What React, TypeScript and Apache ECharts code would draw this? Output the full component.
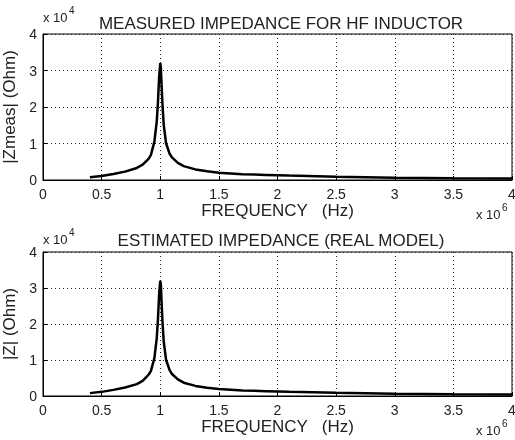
import React, { useEffect, useRef } from "react";
import * as echarts from "echarts";

// Frequencies in Hz, impedance magnitudes in Ohm
const measFreq = [
  0.4e6, 0.5e6, 0.6e6, 0.7e6, 0.8e6, 0.85e6, 0.9e6, 0.92e6, 0.95e6, 0.97e6, 0.98e6, 0.99e6,
  1.0e6, 1.005e6, 1.01e6, 1.02e6, 1.03e6, 1.05e6, 1.08e6, 1.1e6, 1.15e6, 1.2e6, 1.3e6, 1.4e6,
  1.5e6, 1.7e6, 1.9e6, 2.1e6, 2.5e6, 3.0e6, 3.5e6, 4.0e6,
];
const measZ = [
  740, 1100, 1650, 2300, 3300, 4200, 5800, 6800, 10500, 16000, 21000, 28000,
  32000, 31000, 27000, 20000, 15000, 10000, 7200, 6200, 4700, 3800, 2900, 2400,
  2000, 1600, 1400, 1200, 900, 650, 500, 400,
];
const estFreq = [
  0.4e6, 0.5e6, 0.6e6, 0.7e6, 0.8e6, 0.85e6, 0.9e6, 0.92e6, 0.95e6, 0.97e6, 0.98e6, 0.99e6,
  1.0e6, 1.005e6, 1.01e6, 1.02e6, 1.03e6, 1.05e6, 1.08e6, 1.1e6, 1.15e6, 1.2e6, 1.3e6, 1.4e6,
  1.5e6, 1.7e6, 1.9e6, 2.1e6, 2.5e6, 3.0e6, 3.5e6, 4.0e6,
];
const estZ = [
  800, 1150, 1700, 2350, 3300, 4200, 5900, 6900, 10500, 16000, 21000, 28000,
  32000, 31000, 27000, 20000, 15000, 10000, 7200, 6100, 4600, 3700, 2800, 2300,
  1950, 1550, 1350, 1150, 900, 650, 500, 400,
];
const xTickLabels = ["0", "0.5", "1", "1.5", "2", "2.5", "3", "3.5", "4"];
const yTickLabels = ["0", "1", "2", "3", "4"];

const FONT = "Liberation Sans";
const TXT = "#222";

export default function App() {
  const ref = useRef<HTMLDivElement>(null);
  useEffect(() => {
    if (!ref.current) return;
    const chart = echarts.init(ref.current, undefined, { renderer: "svg" });
    const grids = [
      { left: 43, top: 34, width: 469, height: 146 },
      { left: 43, top: 252, width: 469, height: 144 },
    ];
    const mkX = (gi: number) => ({
      type: "value",
      gridIndex: gi,
      min: 0,
      max: 4e6,
      interval: 5e5,
      axisLine: { show: true, lineStyle: { color: "#000", width: 1 } },
      axisTick: { show: true, inside: true, length: 4, lineStyle: { color: "#000" } },
      splitLine: { show: true, lineStyle: { type: [1, 3], color: "#222", width: 1 } },
      axisLabel: {
        show: true,
        fontFamily: FONT,
        fontSize: 14,
        color: TXT,
        margin: 7,
        formatter: (v: number) => xTickLabels[Math.round(v / 5e5)] ?? "",
      },
      name: "FREQUENCY   (Hz)",
      nameLocation: "middle",
      nameGap: 22,
      nameTextStyle: { fontFamily: FONT, fontSize: 17, color: TXT },
    });
    const mkY = (gi: number, name: string) => ({
      type: "value",
      gridIndex: gi,
      min: 0,
      max: 4e4,
      interval: 1e4,
      axisLine: { show: true, lineStyle: { color: "#000", width: 1 } },
      axisTick: { show: true, inside: true, length: 4, lineStyle: { color: "#000" } },
      splitLine: { show: true, lineStyle: { type: [1, 3], color: "#222", width: 1 } },
      axisLabel: {
        show: true,
        fontFamily: FONT,
        fontSize: 14,
        color: TXT,
        margin: 6,
        formatter: (v: number) => yTickLabels[Math.round(v / 1e4)] ?? "",
      },
      name,
      nameLocation: "middle",
      nameGap: 21,
      nameTextStyle: { fontFamily: FONT, fontSize: 17, color: TXT },
    });
    const sup = (exp: string, x: number, y: number) => [
      {
        type: "text",
        x,
        y,
        style: { text: "x 10", fontFamily: FONT, fontSize: 13, fill: TXT, verticalAlign: "middle" },
      },
      {
        type: "text",
        x: x + 26,
        y: y - 7,
        style: { text: exp, fontFamily: FONT, fontSize: 10, fill: TXT, verticalAlign: "middle" },
      },
    ];
    chart.setOption({
      animation: false,
      title: [
        {
          text: "MEASURED IMPEDANCE FOR HF INDUCTOR",
          left: 276,
          top: 10,
          textAlign: "center",
          textStyle: { fontFamily: FONT, fontSize: 17, fontWeight: "normal", color: TXT },
        },
        {
          text: "ESTIMATED IMPEDANCE (REAL MODEL)",
          left: 276,
          top: 227,
          textAlign: "center",
          textStyle: { fontFamily: FONT, fontSize: 17, fontWeight: "normal", color: TXT },
        },
      ],
      grid: grids.map((g) => ({
        ...g,
        outerBoundsMode: "none",
        show: true,
        borderColor: "#000",
        borderWidth: 1,
      })),
      xAxis: [mkX(0), mkX(1)],
      yAxis: [mkY(0, "|Zmeas| (Ohm)"), mkY(1, "|Z| (Ohm)")],
      graphic: [
        ...sup("4", 43, 17),
        ...sup("4", 43, 239),
        ...sup("6", 476, 214),
        ...sup("6", 476, 430),
      ],
      series: [
        {
          type: "line",
          xAxisIndex: 0,
          yAxisIndex: 0,
          data: measFreq.map((f, i) => [f, measZ[i]]),
          showSymbol: false,
          lineStyle: { color: "#000", width: 2.5 },
        },
        {
          type: "line",
          xAxisIndex: 1,
          yAxisIndex: 1,
          data: estFreq.map((f, i) => [f, estZ[i]]),
          showSymbol: false,
          lineStyle: { color: "#000", width: 2.5 },
        },
      ],
    });
    return () => chart.dispose();
  }, []);
  return (
    <div
      ref={ref}
      style={{ position: "fixed", left: 0, top: 0, width: 515, height: 440 }}
    />
  );
}
